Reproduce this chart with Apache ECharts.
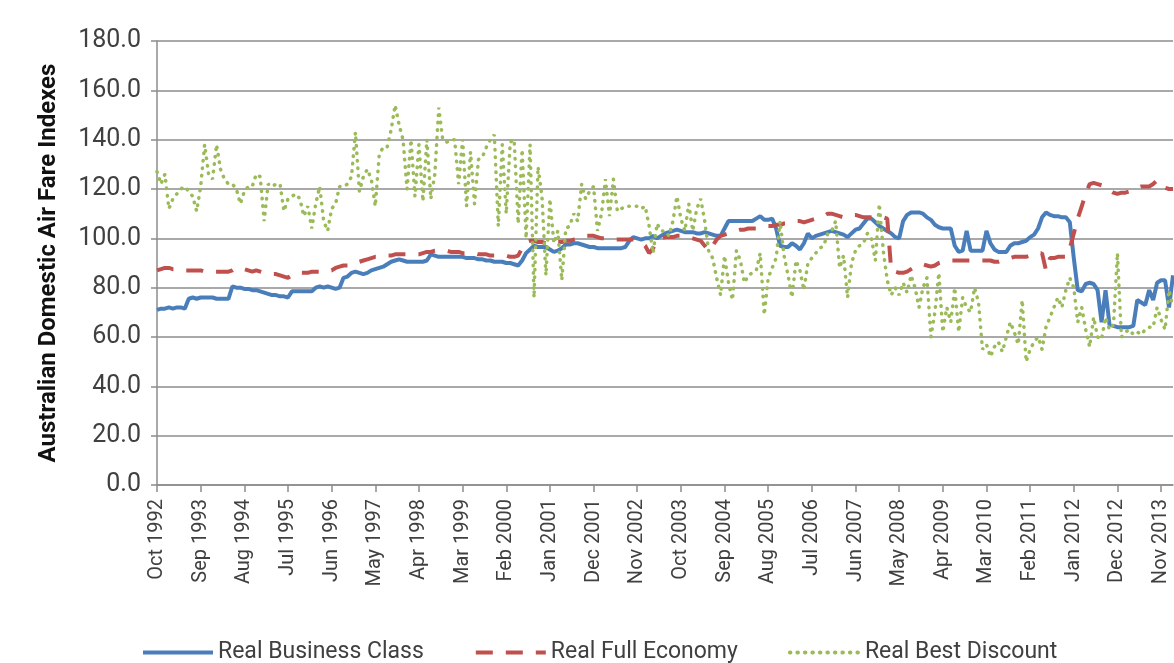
<!DOCTYPE html>
<html>
<head>
<meta charset="utf-8">
<title>Australian Domestic Air Fare Indexes</title>
<script src="https://cdn.jsdelivr.net/npm/echarts@6/dist/echarts.min.js"></script>
<style>
    html, body { margin: 0; padding: 0; background: #fff; }
    #airFares { width: 1174px; height: 663px; }
</style>
</head>
<body>
<div id="airFares"></div>
<script>
// monthly index values, Oct 1992 .. Feb 2014
const monthNames = ['Jan', 'Feb', 'Mar', 'Apr', 'May', 'Jun', 'Jul', 'Aug', 'Sep', 'Oct', 'Nov', 'Dec'];
const firstYear = 1992;
const firstMonth = 9; // Oct
const yTicks = [0, 20, 40, 60, 80, 100, 120, 140, 160, 180];

const businessClass = [
    71, 71.5, 71.5, 72, 71.5, 72, 72, 71.5, 75.5, 76, 75.5, 76,
    76, 76, 76, 75.5, 75.5, 75.5, 75.5, 80.5, 80, 80, 79.5, 79.5,
    79, 79, 78.5, 78, 77.5, 77, 77, 76.5, 76.5, 76, 78.5, 78.5,
    78.5, 78.5, 78.5, 78.5, 80, 80.5, 80, 80.5, 80, 79.5, 80, 84,
    84.5, 86, 86.5, 86, 85.5, 86, 87, 87.5, 88, 88.5, 89.5, 90.5,
    91, 91.5, 91, 90.5, 90.5, 90.5, 90.5, 90.5, 91, 93.5, 93, 92.5,
    92.5, 92.5, 92.5, 92.5, 92.5, 92.5, 92, 92, 92, 91.5, 91.5, 91,
    91, 90.5, 90.5, 90.5, 90, 90, 89.5, 89, 91, 94, 95.5, 97,
    96.5, 96.5, 96.5, 95.5, 94.5, 95, 96, 97.5, 97.5, 98, 98, 97.5,
    97, 96.5, 96.5, 96, 96, 96, 96, 96, 96, 96, 96.5, 99,
    100.5, 100, 99.5, 100, 100, 101, 100, 101, 102, 102.5, 103, 103.5,
    103, 102.5, 102.5, 102.5, 102, 102, 102.5, 102, 101.5, 101, 101, 104,
    107, 107, 107, 107, 107, 107, 107, 108, 109, 107.5, 107.5, 108,
    104, 97, 96.5, 96.5, 98, 97, 95.5, 98, 102, 100, 101, 101.5,
    102, 102.5, 103, 102.5, 102, 101.5, 100.5, 102, 103.5, 104, 106, 108,
    108, 106.5, 105, 104, 103, 102, 100.5, 100, 107, 109.5, 110.5, 110.5,
    110.5, 110, 108.5, 107.5, 105.5, 104.5, 104, 104, 104, 97, 94.5, 95,
    103, 95, 95, 95, 95, 103, 98, 95.5, 94.5, 94.5, 94.5, 97,
    98, 98, 98.5, 99, 100.5, 101.5, 104, 108.5, 110.5, 109.5, 109, 109,
    108.5, 108.5, 106.5, 92, 79, 78.5, 81.5, 82, 81.5, 79, 66, 79,
    65, 64.5, 64, 64, 64, 64, 64.5, 75, 74, 73, 79, 75,
    82, 83, 83, 72, 85
];

const fullEconomy = [
    87, 87.5, 88, 88, 87.5, 87.5, 87, 87, 87, 87, 87, 87,
    86.5, 86.5, 86.5, 86.5, 86.5, 86.5, 86.5, 87, 88, 88, 87.5, 87,
    86.5, 87, 86.5, 86, 85.5, 85.5, 85.5, 85, 84.5, 84, 85, 86,
    86, 86, 86, 86.5, 86.5, 86.5, 86.5, 87, 87, 88, 88.5, 89,
    89, 89, 89.5, 90.5, 91, 91.5, 92, 92.5, 92.5, 92.5, 93, 93,
    93.5, 93.5, 93.5, 93.5, 93.5, 93.5, 93.5, 94, 94.5, 94.5, 95, 95,
    95, 95, 94.5, 94.5, 94.5, 94, 94, 94, 94, 93.5, 93.5, 93.5,
    93, 93, 93, 93, 93, 92.5, 92.5, 93, 96, 98.5, 99, 99,
    98.5, 98.5, 98, 98, 98, 98.5, 98.5, 99, 99, 99.5, 100, 100.5,
    101, 101, 101, 100.5, 100, 100, 99.5, 99.5, 99.5, 99.5, 99.5, 99.5,
    99.5, 99, 98.5, 97, 94, 96, 99, 100, 100.5, 100.5, 100.5, 101,
    101, 100.5, 100.5, 100, 99.5, 99, 97, 95, 97, 99.5, 101, 101.5,
    102, 102.5, 103, 103.5, 103.5, 104, 104, 104, 104.5, 104.5, 105, 105,
    105.5, 105.5, 106, 106, 106.5, 107, 107, 106.5, 107, 107.5, 108, 108.5,
    109, 110, 110, 109.5, 109, 108.5, 109, 109.5, 109.5, 109, 108.5, 108.5,
    108.5, 108.5, 108.5, 108.5, 108, 87, 86.5, 86, 86, 86.5, 87.5, 88.5,
    89, 89.5, 89, 88.5, 89, 90, 90.5, 90.5, 91, 91, 91, 91,
    91, 91, 91, 91, 91, 91, 91, 90.5, 90.5, 91, 91.5, 92,
    92.5, 92.5, 92.5, 92.5, 93, 93, 93.5, 94, 87, 92, 92, 92.5,
    92.5, 92.5, 96, 102, 108, 113, 118, 122, 122.5, 122, 121.5, 121,
    119.5, 118.5, 118, 118.5, 118.5, 119, 119.5, 120.5, 121, 121, 121, 122,
    123.5, 122, 120.5, 120, 120
];

const bestDiscount = [
    127, 122, 126, 112, 116, 118, 120, 121, 119, 117, 111, 121,
    138, 126, 124, 138, 128, 124, 122, 122, 120, 114, 119, 121,
    121, 126, 125, 107, 122, 121, 122, 122, 111, 116, 117, 118,
    116, 109, 113, 104, 114, 121, 107, 103, 112, 114, 121, 121,
    122, 125, 143, 119, 125, 128, 124, 113, 134, 137, 137, 144,
    154, 146, 140, 120, 140, 117, 138, 115, 140, 116, 126, 153,
    140, 139, 140, 140, 122, 140, 113, 135, 114, 132, 133, 137,
    140, 142, 105, 138, 110, 139, 140, 106, 136, 100, 138, 76,
    129, 117, 85, 116, 98, 103, 83, 104, 105, 110, 107, 122,
    116, 119, 121, 103, 110, 124, 109, 124, 111, 112, 113, 113,
    113, 113, 112, 113, 105, 94, 106, 103, 103, 101, 107, 117,
    108, 103, 114, 103, 112, 116, 107, 95, 92, 84, 77, 93,
    82, 75, 95, 91, 82, 85, 86, 87, 94, 69, 84, 88,
    92, 107, 93, 85, 76, 91, 87, 79, 90, 92, 94, 96,
    97, 102, 103, 107, 88, 93, 76, 90, 95, 97, 98, 102,
    100, 91, 114, 95, 83, 77, 80, 77, 82, 78, 85, 80,
    72, 80, 84, 60, 70, 86, 62, 72, 66, 80, 62, 76,
    72, 70, 80, 74, 55, 57, 52, 56, 58, 54, 60, 66,
    62, 57, 75, 50, 55, 58, 60, 55, 64, 68, 72, 76,
    72, 79, 84, 80, 66, 72, 63, 56, 68, 60, 59, 68,
    63, 65, 94, 60, 62, 63, 61, 62, 61, 63, 64, 64,
    72, 67, 63, 79, 72
];

// category labels, one per month
const monthLabels = [];
for (let i = 0; i < businessClass.length; i++) {
    const m = firstMonth + i;
    monthLabels.push(monthNames[m % 12] + ' ' + (firstYear + Math.floor(m / 12)));
}

/**
 * Air fare index line chart
 * @param echartsId chart container id
 */
window.initAirFareChart = function (echartsId) {
    const chart = echarts.init(document.getElementById(echartsId));
    const axisColor = '#8c8c8c';
    const labelColor = '#404040';
    const font = 'Roboto, sans-serif';

    const option = {
        backgroundColor: '#fff',
        animation: false,
        grid: {
            left: 157,
            right: 1,
            top: 41,
            bottom: 178,
            outerBoundsMode: 'none'
        },
        legend: {
            top: 636,
            left: 136,
            itemWidth: 70,
            itemHeight: 14,
            itemGap: 50,
            //hide the symbol, keep the line
            itemStyle: { opacity: 0 },
            lineStyle: { width: 4 },
            textStyle: {
                fontFamily: font,
                fontSize: 23,
                color: labelColor
            },
            data: ['Real Business Class', 'Real Full Economy', 'Real Best Discount']
        },
        xAxis: {
            type: 'category',
            data: monthLabels,
            boundaryGap: false,
            axisLine: {
                lineStyle: { color: axisColor, width: 1.5 }
            },
            axisTick: {
                interval: 10, //one tick every 11 months
                length: 7,
                lineStyle: { color: axisColor, width: 1.5 }
            },
            axisLabel: {
                interval: 10,
                rotate: 90,
                margin: 14,
                fontFamily: font,
                fontSize: 20,
                color: labelColor
            },
            splitLine: { show: false }
        },
        yAxis: {
            type: 'value',
            min: yTicks[0],
            max: yTicks[yTicks.length - 1],
            interval: yTicks[1] - yTicks[0],
            name: 'Australian Domestic Air Fare Indexes',
            nameLocation: 'middle',
            nameGap: 96,
            nameTextStyle: {
                fontFamily: font,
                fontWeight: 'bold',
                fontSize: 24,
                color: '#111'
            },
            axisLine: {
                show: true,
                lineStyle: { color: axisColor, width: 1.5 }
            },
            axisTick: {
                show: true,
                length: 6,
                lineStyle: { color: axisColor, width: 1.5 }
            },
            axisLabel: {
                margin: 16,
                fontFamily: font,
                fontSize: 25,
                color: labelColor,
                formatter: function (v) {
                    return v.toFixed(1);
                }
            },
            splitLine: {
                lineStyle: { color: axisColor, width: 1.5 }
            }
        },
        series: [{
            name: 'Real Business Class',
            type: 'line',
            data: businessClass,
            symbol: 'none',
            itemStyle: { color: '#4A7EBB' },
            lineStyle: { color: '#4A7EBB', width: 4 }
        }, {
            name: 'Real Full Economy',
            type: 'line',
            data: fullEconomy,
            symbol: 'none',
            itemStyle: { color: '#C0504D' },
            lineStyle: { color: '#C0504D', width: 4, type: [17, 13] }
        }, {
            name: 'Real Best Discount',
            type: 'line',
            data: bestDiscount,
            symbol: 'none',
            itemStyle: { color: '#9BBB59' },
            //round dots
            lineStyle: { color: '#9BBB59', width: 3.5, type: [0.5, 7], cap: 'round' }
        }]
    };

    chart.setOption(option);

    window.onresize = function () {
        chart.resize();
    };
}

initAirFareChart('airFares');
</script>
</body>
</html>
